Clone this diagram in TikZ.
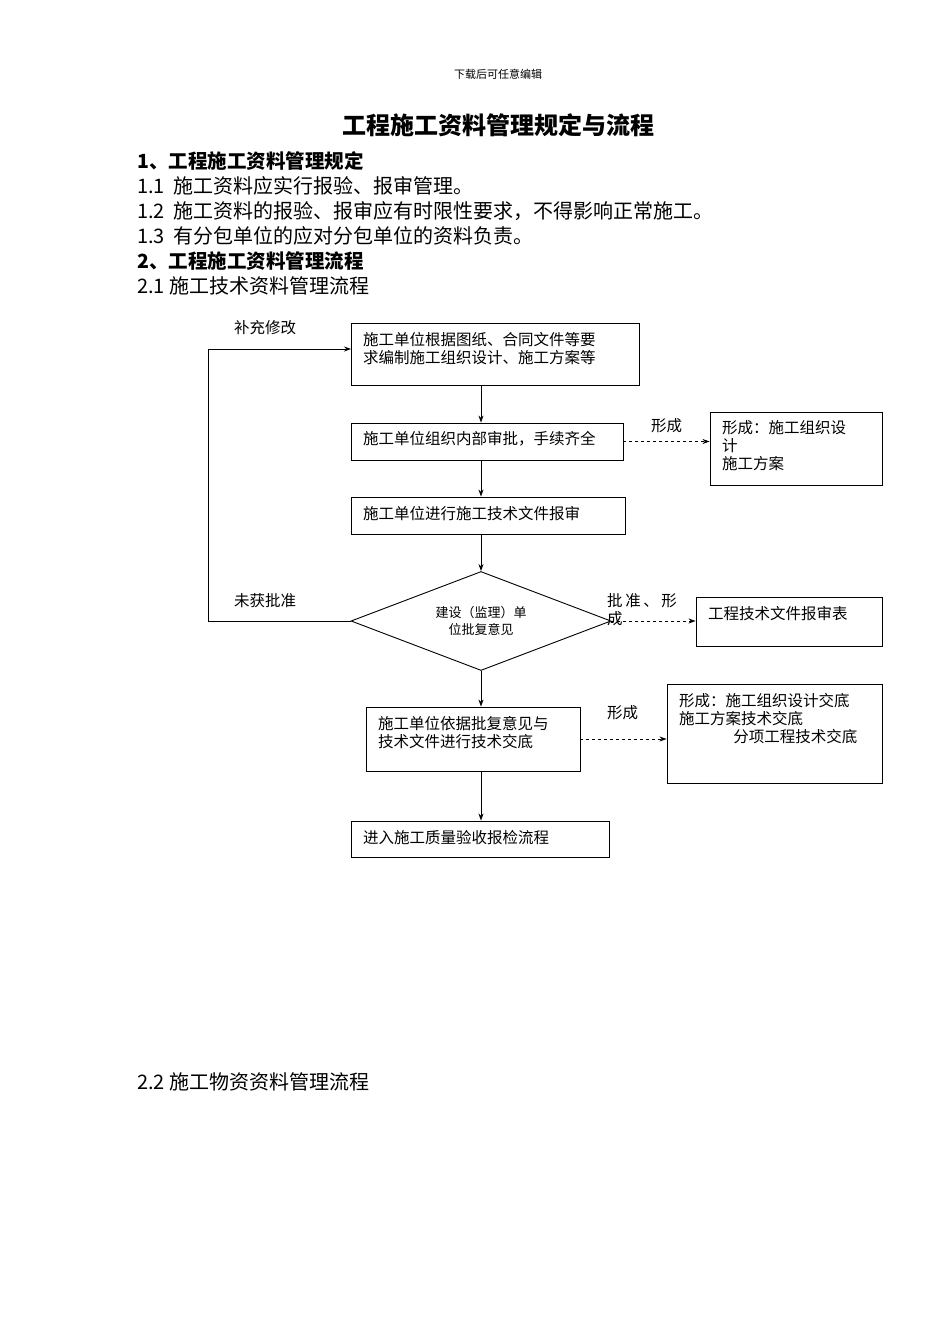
\documentclass[tikz,border=0pt]{standalone}
\usepackage{fontspec}
\setmainfont{Noto Sans CJK SC}
\usetikzlibrary{arrows.meta,shapes.geometric}
\begin{document}
\begin{tikzpicture}[x=1pt,y=-1pt,
  bx/.style={draw,line width=0.9pt,inner sep=0pt},
  tx/.style={anchor=west,inner sep=0pt,font=\fontsize{15.5}{18}\selectfont},
  ln/.style={anchor=west,inner sep=0pt,font=\fontsize{20}{22}\selectfont},
  arr/.style={-{Stealth[length=7pt,width=5pt]},line width=0.8pt},
  darr/.style={arr,dashed}]
\useasboundingbox (0,0) rectangle (950,1344);
\fill[white] (0,0) rectangle (950,1344);
\node (hd) at (498,74) {\fontsize{11}{12}\selectfont 下载后可任意编辑};
\node (ti) at (498,125) {\fontsize{24}{26}\selectfont\bfseries 工程施工资料管理规定与流程};
\node[ln,font=\fontsize{19.5}{22}\selectfont\bfseries] (s1) at (137,161) {1、工程施工资料管理规定};
\node[ln] (l1) at (137,186) {1.1\ \ 施工资料应实行报验、报审管理。};
\node[ln] (l2) at (137,211) {1.2\ \ 施工资料的报验、报审应有时限性要求，不得影响正常施工。};
\node[ln] (l3) at (137,236) {1.3\ \ 有分包单位的应对分包单位的资料负责。};
\node[ln,font=\fontsize{19.5}{22}\selectfont\bfseries] (s2) at (137,261) {2、工程施工资料管理流程};
\node[ln] (l4) at (137,286) {2.1 施工技术资料管理流程};
\node[ln] (l5) at (137,1082) {2.2 施工物资资料管理流程};

\draw[bx] (351,323) rectangle (639,385);
\coordinate (b1s) at (481,385);
\node[tx,align=left] (t1) at (363,349) {施工单位根据图纸、合同文件等要\\求编制施工组织设计、施工方案等};
\node[bx,minimum width=272pt,minimum height=37pt] (b2) at (487,441.5) {};
\node[tx] (t2) at (363,439) {施工单位组织内部审批，手续齐全};
\node[bx,minimum width=274pt,minimum height=37pt] (b3) at (488,515.5) {};
\node[tx] (t3) at (363,514) {施工单位进行施工技术文件报审};
\node[draw,line width=0.9pt,diamond,aspect=2.6,minimum width=260pt,minimum height=99pt,inner sep=0pt] (d) at (481,621) {};
\node[align=center,font=\fontsize{13}{17}\selectfont] (dt) at (481,621) {建设（监理）单\\位批复意见};
\node[bx,minimum width=214pt,minimum height=64pt] (b5) at (473,739) {};
\node[tx,align=left] (t5) at (378,733) {施工单位依据批复意见与\\技术文件进行技术交底};
\node[bx,minimum width=258pt,minimum height=36pt] (b6) at (480,839) {};
\node[tx] (t6) at (363,838) {进入施工质量验收报检流程};

\node[bx,minimum width=172pt,minimum height=73pt] (r1) at (796,448.5) {};
\node[tx,align=left] (rt1) at (722,446) {形成：施工组织设\\计\\施工方案};
\node[bx,minimum width=186pt,minimum height=49pt] (r2) at (789,621.5) {};
\node[tx] (rt2) at (708,614) {工程技术文件报审表};
\node[bx,minimum width=215pt,minimum height=99pt] (r3) at (774.5,733.5) {};
\node[tx,align=left] (rt3) at (679,719) {形成：施工组织设计交底\\施工方案技术交底\\\hspace*{3.5em}分项工程技术交底};

\draw[arr] (b1s) -- (b1s|-b2.north);
\draw[arr] (b1s|-b2.south) -- (b1s|-b3.north);
\draw[arr] (b1s|-b3.south) -- (d.north);
\draw[arr] (d.south) -- (b1s|-b5.north);
\draw[arr] (b1s|-b5.south) -- (b1s|-b6.north);
\coordinate (c1) at (208,621);
\coordinate (c2) at (208,349);
\draw[arr] (d.west) -- (c1) -- (c2) -- (351,349);
\node[tx] (lb1) at (234,328) {补充修改};
\node[tx] (lb2) at (234,601) {未获批准};
\draw[darr] (b2.east) -- (r1.west|-b2.east);
\draw[darr] (d.east) -- (r2.west|-d.east);
\draw[darr] (b5.east) -- (r3.west|-b5.east);
\node[tx] (lb3) at (651,426) {形成};
\node[tx,align=left] (lb4) at (607,610) {批\,准\,、\,形\\成};
\node[tx] (lb5) at (607,713) {形成};
\end{tikzpicture}
\end{document}
